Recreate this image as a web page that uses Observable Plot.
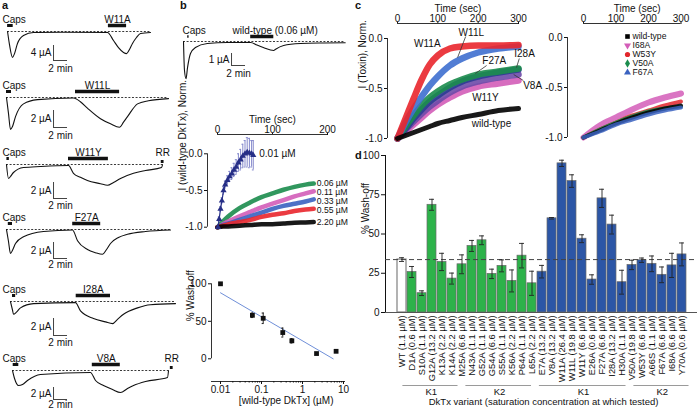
<!DOCTYPE html>
<html>
<head>
<meta charset="utf-8">
<script src="https://cdn.jsdelivr.net/npm/d3@7"></script>
<script src="https://cdn.jsdelivr.net/npm/@observablehq/plot@0.6"></script>
<style>
html,body{margin:0;padding:0;background:#fff;}
#fig{position:relative;width:698px;height:409px;overflow:hidden;background:#fff;font-family:"Liberation Sans",Arial,Helvetica,sans-serif;color:#111;}
#fig svg{position:absolute;overflow:visible;}
.plab{position:absolute;font-weight:bold;font-size:11px;line-height:11px;}
#pd g[aria-label^="x-axis"] text{font-size:9.3px;}
</style>
</head>
<body>
<div id="fig"></div>
<script>
// ================= DATA =================
// ---- panel a: current traces (time in min, current in µA) ----
const aToxins = ["W11A","W11L","W11Y","F27A","I28A","V8A"];
const aCapsOn  = [0.3, 0.14, 0.2, 0.4, 1.0, 1.1];
const aCapsOff = [1.1, 0.86, 0.55, 1.0, 1.45, 1.9];
const aToxOn   = [14.7, 10.0, 9.0, 9.6, 10.1, 12.4];
const aToxOff  = [17.3, 16.3, 14.7, 13.6, 15.0, 16.4];
const aScaleUA = [4, 2, 2, 2, 2, 2];
const aScaleMin = [2, 2, 2, 2, 2, 2];
const aRR = [null, null, 22.45, null, null, 23.75];
const aTime = [
 [0.29,0.57,1.0,1.29,1.71,2.57,4.0,8.0,14.57,15.43,16.14,16.86,17.29,17.71,18.14,18.71,19.29,20.71],
 [0.14,0.43,0.71,1.0,1.43,2.57,4.57,9.71,10.7,11.7,13.57,15.0,16.29,16.86,17.43,18.86,20.43,23.29],
 [0.14,0.43,0.71,1.14,2.57,5.0,9.0,9.71,10.7,11.7,13.57,14.57,15.43,16.43,18.29,20.0,22.29,22.43],
 [0.14,0.43,0.71,1.0,1.43,2.57,5.43,9.57,10.29,11.71,12.86,13.86,14.43,15.0,16.14,17.43,20.0,23.57],
 [0.71,1.0,1.14,1.57,2.14,4.0,10.0,10.71,12.57,14.29,15.29,16.0,16.86,18.86,20.71,24.29],
 [1.0,1.29,1.86,2.43,3.14,5.0,12.14,12.86,14.0,15.29,16.43,17.43,18.29,20.0,23.14,23.29]
];
const aCurrent = [
 [0,-3.5,-6.9,-5.9,-3.2,-1.07,-0.27,-0.22,-0.27,-2.4,-4.3,-5.6,-5.9,-4.8,-3.2,-1.6,-0.53,-0.27],
 [0,-1.9,-3.75,-3.4,-2.25,-0.75,-0.25,-0.06,-0.5,-1.25,-2.5,-3.1,-3.5,-2.9,-2.25,-0.75,-0.38,-0.13],
 [0,-1.75,-1.5,-1.0,-0.38,-0.25,-0.13,-1.1,-1.6,-2.0,-2.4,-2.6,-2.25,-1.75,-1.1,-0.75,-0.38,0],
 [0,-1.5,-3.0,-2.6,-1.75,-0.9,-0.25,-0.06,-1.4,-2.5,-2.9,-3.1,-2.5,-1.75,-1.0,-0.6,-0.25,-0.06],
 [0,-1.0,-1.5,-1.25,-0.75,-0.25,-0.13,-1.1,-2.0,-2.4,-2.6,-2.1,-1.5,-0.75,-0.38,-0.25],
 [0,-1.33,-2.5,-2.33,-1.67,-0.67,-0.33,-1.67,-2.5,-3.17,-3.67,-3.0,-2.5,-1.83,-1.17,0]
];

// ---- panel b top: wild-type trace ----
const bTraceTime    = [0,0.14,0.36,0.57,1.0,1.7,3.4,6.3,9.6,10.5,11.4,12.9,13.1,14.3,16.7,20,23.1];
const bTraceCurrent = [0,-2.4,-3.1,-2.2,-1.0,-0.5,-0.17,-0.08,-0.08,-0.3,-0.5,-0.75,-0.67,-0.33,-0.17,-0.12,-0.1];
const bTraceCaps = [0.6, 0.8];
const bTraceTox = [9.6, 12.9];

// ---- panel b middle: normalized wash-off at several wild-type concentrations ----
const bTime = [0,10,20,40,60,80,100,120,140,160,175];
const bLabels = ["0.06 µM","0.11 µM","0.33 µM","0.55 µM","2.20 µM"];
const bC006 = [-1,-0.92,-0.85,-0.74,-0.66,-0.59,-0.54,-0.49,-0.45,-0.42,-0.405];
const bC011 = [-1,-0.96,-0.92,-0.85,-0.79,-0.73,-0.68,-0.63,-0.58,-0.54,-0.51];
const bC033 = [-1,-0.97,-0.95,-0.90,-0.85,-0.80,-0.75,-0.71,-0.68,-0.65,-0.62];
const bC055 = [-1,-0.98,-0.96,-0.93,-0.90,-0.86,-0.83,-0.81,-0.78,-0.76,-0.75];
const bC220 = [-1,-0.99,-0.99,-0.98,-0.97,-0.96,-0.96,-0.95,-0.94,-0.935,-0.93];
const bLowLabel = "0.01 µM";
const bLowTime  = [1,3,5.5,8,11,14,18,22,26,30,34,38,42,46,50,54,58,62,65];
const bLowValue = [-1,-0.89,-0.75,-0.64,-0.5,-0.42,-0.36,-0.31,-0.27,-0.22,-0.18,-0.12,-0.08,-0.03,0,0.02,0.01,0,-0.02];
const bLowErr   = [0.02,0.03,0.03,0.04,0.05,0.05,0.06,0.07,0.08,0.09,0.1,0.12,0.14,0.16,0.18,0.2,0.2,0.18,0.2];

// ---- panel b bottom: % wash-off vs wild-type concentration ----
const wtConc = [0.01, 0.06, 0.11, 0.33, 0.55, 2.2, 6.6];
const wtWash = [100, 58, 54, 35, 24, 7, 10];
const wtWashErr = [0, 3, 7, 6, 3, 1, 1.5];
const fitConc = [0.01, 5.6];
const fitWash = [88, 0];

// ---- panel c left ----
const cTime = [0,20,40,60,80,100,130,160,200,250,300];
const cNames = ["W11Y","V8A","I28A","F27A","W11L","W11A","wild-type"];
const cValues = {
  "W11A": [-1,-0.8,-0.6,-0.41,-0.26,-0.17,-0.1,-0.08,-0.07,-0.07,-0.065],
  "W11L": [-1,-0.84,-0.7,-0.58,-0.47,-0.38,-0.27,-0.2,-0.14,-0.1,-0.08],
  "F27A": [-1,-0.88,-0.77,-0.67,-0.59,-0.53,-0.46,-0.41,-0.36,-0.33,-0.3],
  "I28A": [-1,-0.9,-0.8,-0.71,-0.63,-0.57,-0.49,-0.43,-0.38,-0.34,-0.31],
  "V8A":  [-1,-0.91,-0.83,-0.75,-0.68,-0.62,-0.54,-0.48,-0.43,-0.39,-0.36],
  "W11Y": [-1,-0.93,-0.86,-0.79,-0.72,-0.66,-0.59,-0.53,-0.48,-0.45,-0.42],
  "wild-type": [-1,-0.97,-0.94,-0.91,-0.88,-0.85,-0.82,-0.79,-0.76,-0.72,-0.7]
};
// ---- panel c right ----
const cRTime = [0,50,100,150,200,250,300];
const cRNames = ["wild-type","I68A","W53Y","V50A","F67A"];
const cRValues = {
  "wild-type": [-1,-0.93,-0.86,-0.8,-0.75,-0.71,-0.68],
  "I68A": [-1,-0.88,-0.8,-0.72,-0.65,-0.6,-0.56],
  "W53Y": [-1,-0.92,-0.85,-0.78,-0.73,-0.68,-0.64],
  "V50A": [-1,-0.92,-0.85,-0.79,-0.74,-0.71,-0.69],
  "F67A": [-1,-0.94,-0.87,-0.82,-0.77,-0.73,-0.7]
};

// ---- panel d ----
const variants = ["WT","D1A","S10A","G12A","K13A","K14A","M25A","N43A","G52A","G54A","S55A","K56A","P64A","L65A","E7A","V8A","W11A","W11L","W11Y","E26A","F27A","I28A","H30A","V50A","W53Y","A66S","F67A","I68A","Y70A"];
const satConc = ["1.1","0.6","1.1","13.2","2.2","2.2","6.6","1.1","1.1","6.6","1.1","2.2","1.1","2.2","13.2","13.2","26.4","19.8","6.6","0.6","6.6","13.2","1.1","19.8","6.6","1.1","6.6","6.6","0.6"];
const washoff = [33.7,25.8,12.3,68.6,32.2,21.6,30.7,42.4,46,24.6,29.7,20.1,36.2,18.6,26,60,95,83.7,47,21,72.7,56,19.3,30.3,33.3,31,24,30,37];
const washoffSem = [1.2,3.5,1.5,3.5,5.5,3.5,6,3.5,2.8,3,3.8,7,7.8,7.7,4,0.5,2,4,2.5,3,5.8,6,7.6,3,1.4,5,5,7.7,7.3];
const groupNames = ["K1","K2","K1","K2"];
const groupFirst = ["D1A","N43A","E7A","V50A"];
const groupLast  = ["M25A","L65A","H30A","Y70A"];
const dXTitle = "DkTx variant (saturation concentration at which tested)";

// ================= RENDER =================
const fig = document.getElementById("fig");
const FONT = "'Liberation Sans', Arial, Helvetica, sans-serif";
const baseStyle = {background: "none", overflow: "visible", fontFamily: FONT, fontSize: "10px", color: "#111"};
function put(svg, left, top, id) {
  svg.style.position = "absolute";
  svg.style.left = left + "px";
  svg.style.top = top + "px";
  if (id) svg.id = id;
  fig.appendChild(svg);
}
function panelLabel(t, x, y) {
  const d = document.createElement("div");
  d.className = "plab"; d.textContent = t;
  d.style.left = x + "px"; d.style.top = y + "px";
  fig.appendChild(d);
}
const fmt1 = d => d.toFixed(1);
const TOP_AXIS = {axis: "top", tickSize: 2, tickPadding: 0, label: null};
const TITLE_DY = -19;

// ---------- panel a ----------
const aBasePx = [31, 97, 164, 229, 301, 370];
const aPxPerUA = [3.75, 8.5, 8, 8, 8.5, 6];
const aScaleTopPx = [14, 13, 18, 13, 17, 17];
const aMinLabelDy = [8, 8, 7, 6, 7, 5];
const A_ABOVE = 28, A_H = 76, SCALE_T = 6.86;
aToxins.forEach((tox, i) => {
  const k = aPxPerUA[i];
  const pts = aTime[i].map((t, j) => ({t, I: aCurrent[i][j]}));
  const t0 = aTime[i][0], t1 = aTime[i][aTime[i].length - 1];
  const labY = 12 / k, barY = 6 / k;
  const sTop = -aScaleTopPx[i] / k, sBot = sTop - aScaleUA[i];
  const marks = [
    Plot.ruleY([0], {x1: () => t0, x2: () => t1, stroke: "#222", strokeWidth: 0.9, strokeDasharray: "2,1.6"}),
    Plot.line(pts, {x: "t", y: "I", curve: "monotone-x", stroke: "#111", strokeWidth: 1.1}),
    Plot.text(["Caps"], {x: () => 0, y: () => labY, textAnchor: "start", dx: -3}),
    Plot.ruleY([barY], {x1: () => aCapsOn[i], x2: () => aCapsOff[i], strokeWidth: 3}),
    Plot.text([tox], {x: () => (aToxOn[i] + aToxOff[i]) / 2, y: () => labY}),
    Plot.ruleY([barY], {x1: () => aToxOn[i], x2: () => aToxOff[i], strokeWidth: 3.5}),
    Plot.ruleX([SCALE_T], {y1: () => sTop, y2: () => sBot, stroke: "#444"}),
    Plot.ruleY([sBot], {x1: () => SCALE_T, x2: () => SCALE_T + aScaleMin[i], stroke: "#444"}),
    Plot.text([`${aScaleUA[i]} µA`], {x: () => SCALE_T, y: () => (sTop + sBot) / 2, textAnchor: "end", dx: -2}),
    Plot.text([`${aScaleMin[i]} min`], {x: () => SCALE_T + aScaleMin[i] / 2, y: () => sBot, dy: aMinLabelDy[i]})
  ];
  if (aRR[i] != null) {
    marks.push(Plot.text(["RR"], {x: () => aRR[i], y: () => labY}));
    marks.push(Plot.ruleY([3 / k], {x1: () => aRR[i] - 0.2, x2: () => aRR[i] + 0.2, strokeWidth: 3}));
  }
  const svg = Plot.plot({
    width: 182, height: A_H, margin: 0, style: baseStyle,
    x: {domain: [0, 25], range: [5, 180], axis: null},
    y: {domain: [-(A_H - A_ABOVE) / k, A_ABOVE / k], range: [A_H, 0], axis: null},
    marks
  });
  put(svg, 0, aBasePx[i] - A_ABOVE);
});
panelLabel("a", 2, 0);

// ---------- panel b top ----------
{
  const k = 12, above = 31, H = 80;
  const pts = bTraceTime.map((t, j) => ({t, I: bTraceCurrent[j]}));
  const tEnd = bTraceTime[bTraceTime.length - 1];
  const svg = Plot.plot({
    width: 200, height: H, margin: 0, style: baseStyle,
    x: {domain: [0, 24], range: [33, 201], axis: null},
    y: {domain: [-(H - above) / k, above / k], range: [H, 0], axis: null},
    marks: [
      Plot.ruleY([0], {x1: () => 0, x2: () => tEnd, stroke: "#222", strokeWidth: 0.9, strokeDasharray: "2,1.6"}),
      Plot.line(pts, {x: "t", y: "I", curve: "monotone-x", stroke: "#111", strokeWidth: 1.1}),
      Plot.text(["Caps"], {x: () => 0, y: () => 11 / k, textAnchor: "start", dx: -1}),
      Plot.ruleY([5 / k], {x1: () => bTraceCaps[0], x2: () => bTraceCaps[1], strokeWidth: 2.5}),
      Plot.text(["wild-type (0.06 µM)"], {x: () => 7, y: () => 11 / k, textAnchor: "start"}),
      Plot.ruleY([5 / k], {x1: () => bTraceTox[0], x2: () => bTraceTox[1], strokeWidth: 3.5}),
      Plot.ruleX([SCALE_T], {y1: () => -1, y2: () => -2, stroke: "#444"}),
      Plot.ruleY([-2], {x1: () => SCALE_T, x2: () => SCALE_T + 2, stroke: "#444"}),
      Plot.text(["1 µA"], {x: () => SCALE_T, y: () => -1.5, textAnchor: "end", dx: -2}),
      Plot.text(["2 min"], {x: () => SCALE_T + 1, y: () => -2, dy: 8})
    ]
  });
  put(svg, 150, 10);
}
panelLabel("b", 180, 0);

// ---------- panel b middle ----------
{
  const W = 215, H = 135, mT = 29, mL = 57;
  const xR = [67, 177], yR = [121.7, 48.3];
  const pxPerUnit = yR[0] - yR[1];
  const series = [[bC006, "#1b8c4d"], [bC011, "#d35db8"], [bC033, "#3a62c0"], [bC055, "#e9262c"], [bC220, "#000000"]];
  const marks = [
    Plot.ruleY([0], {x1: () => 0, x2: () => 200, dy: mT - yR[1], stroke: "#333"}),
    Plot.ruleX([0], {y1: () => -1, y2: () => 0, dx: mL - xR[0], stroke: "#333"}),
    Plot.text(["Time (sec)"], {x: () => 100, frameAnchor: "top", dy: TITLE_DY}),
    Plot.text(["I (wild-type DkTx), Norm."], {y: () => -0.5, frameAnchor: "left", dx: -25, rotate: -90})
  ];
  series.forEach(([vals, col]) => {
    const pts = bTime.map((t, j) => ({t, v: vals[j]}));
    marks.push(Plot.line(pts, {x: "t", y: "v", curve: "monotone-x", stroke: col, strokeWidth: 4.5, strokeOpacity: 0.9}));
  });
  // end labels, nudged apart so they do not collide (min 9 px)
  let prevPx = -Infinity;
  series.forEach(([vals], s) => {
    const endV = vals[vals.length - 1];
    const px = Math.max(yR[1] - endV * pxPerUnit, prevPx + 9);
    prevPx = px;
    const labV = -(px - yR[1]) / pxPerUnit;
    const last = {t: bTime[bTime.length - 1], v: labV, label: bLabels[s]};
    marks.push(Plot.text([last], {x: "t", y: "v", text: "label", textAnchor: "start", dx: 3, fontSize: 8.6}));
  });
  const low = bLowTime.map((t, j) => ({t, v: bLowValue[j], e: bLowErr[j]}));
  marks.push(Plot.ruleX(low, {x: "t", y1: d => d.v - d.e, y2: d => d.v + d.e, stroke: "#8589cc", strokeWidth: 1}));
  marks.push(Plot.ruleY(low, {y: d => d.v + d.e, x1: d => d.t - 1.6, x2: d => d.t + 1.6, stroke: "#8589cc"}));
  marks.push(Plot.ruleY(low, {y: d => d.v - d.e, x1: d => d.t - 1.6, x2: d => d.t + 1.6, stroke: "#8589cc"}));
  marks.push(Plot.line(low, {x: "t", y: "v", stroke: "#262e86", strokeWidth: 1.2}));
  marks.push(Plot.dot(low, {x: "t", y: "v", symbol: "triangle", r: 2.3, fill: "#262e86"}));
  const lastLow = low[low.length - 1];
  marks.push(Plot.text([bLowLabel], {x: () => lastLow.t, y: () => 0, textAnchor: "start", dx: 6}));
  const svg = Plot.plot({
    width: W, height: H, marginTop: mT, marginLeft: mL, marginRight: 10, marginBottom: 0, style: baseStyle,
    x: {domain: [0, 200], range: xR, ticks: [0, 100, 200], ...TOP_AXIS},
    y: {domain: [-1, 0], range: yR, ticks: [0, -0.5, -1], tickFormat: fmt1, tickSize: 3, tickPadding: 2, label: null},
    marks
  });
  put(svg, 150, 105);
}

// ---------- panel b bottom ----------
{
  const W = 215, H = 139, mL = 61, mB = 28, mT = 13;
  const xR = [70, 193], yR = [88.3, 13.3];
  const hasAxisMarks = typeof Plot.axisX === "function";
  const pts = wtConc.map((c, j) => ({c, w: wtWash[j], e: wtWashErr[j]}));
  const fit = fitConc.map((c, j) => ({c, w: fitWash[j]}));
  const majors = [0.01, 0.1, 1, 10];
  const minors = [];
  for (let p = -2; p < 1; p++) for (let m = 2; m <= 9; m++) minors.push(m * Math.pow(10, p));
  const withErr = pts.filter(d => d.e > 0);
  const marks = [
    Plot.ruleY([0], {dy: (H - mB) - yR[0], stroke: "#333"}),
    Plot.ruleX([0.01], {y1: () => 0, y2: () => 100, dx: mL - xR[0], stroke: "#333"}),
    Plot.line(fit, {x: "c", y: "w", stroke: "#6f8fd8", strokeWidth: 1}),
    Plot.ruleX(withErr, {x: "c", y1: d => d.w - d.e, y2: d => d.w + d.e, stroke: "#222"}),
    Plot.ruleY(withErr, {y: d => d.w + d.e, x1: d => d.c / 1.06, x2: d => d.c * 1.06, stroke: "#222"}),
    Plot.ruleY(withErr, {y: d => d.w - d.e, x1: d => d.c / 1.06, x2: d => d.c * 1.06, stroke: "#222"}),
    Plot.dot(pts, {x: "c", y: "w", symbol: "square", r: 2.7, fill: "#111"}),
    Plot.text(["% Wash-off"], {y: () => 50, frameAnchor: "left", dx: -21, rotate: -90}),
    Plot.text(["[wild-type DkTx] (µM)"], {x: () => 0.4, frameAnchor: "bottom", dy: 22})
  ];
  const xOpts = {type: "log", domain: [0.01, 10], range: xR, label: null};
  if (hasAxisMarks) {
    marks.push(Plot.axisX(majors, {anchor: "bottom", tickSize: 3, tickPadding: 1, tickFormat: d => String(d), label: null}));
    marks.push(Plot.axisX(minors, {anchor: "bottom", tickSize: 1.5, tickFormat: () => "", label: null}));
  } else {
    Object.assign(xOpts, {ticks: majors, tickSize: 3, tickPadding: 1, tickFormat: d => String(d)});
  }
  const svg = Plot.plot({
    width: W, height: H, marginTop: mT, marginLeft: mL, marginRight: 20, marginBottom: mB, style: baseStyle,
    x: xOpts,
    y: {domain: [0, 100], range: yR, ticks: [0, 50, 100], tickSize: 3, tickPadding: 2, label: null},
    marks
  });
  put(svg, 150, 270);
}

// ---------- panel c left ----------
const cColors = {"W11A": "#e9262c", "W11L": "#3e6fcf", "F27A": "#1b8c4d", "I28A": "#2b3d91", "V8A": "#6d4aa8", "W11Y": "#d35db8", "wild-type": "#000000"};
{
  const W = 205, H = 150, mT = 23, mL = 47;
  const xR = [57, 178], yR = [138, 38];
  const marks = [
    Plot.ruleY([0], {x1: () => 0, x2: () => 300, dy: mT - yR[1], stroke: "#333"}),
    Plot.ruleX([0], {y1: () => -1, y2: () => 0, dx: mL - xR[0], stroke: "#333"}),
    Plot.text(["Time (sec)"], {x: () => 150, frameAnchor: "top", dy: TITLE_DY}),
    Plot.text(["I (Toxin), Norm."], {y: () => -0.5, frameAnchor: "left", dx: -25, rotate: -90})
  ];
  cNames.forEach(n => {
    const pts = cTime.map((t, j) => ({t, v: cValues[n][j]}));
    marks.push(Plot.line(pts, {x: "t", y: "v", curve: "monotone-x", stroke: cColors[n], strokeWidth: n === "wild-type" ? 5 : 6.5, strokeOpacity: 0.9}));
  });
  // annotations: label text and leader lines
  const ann = [
    {text: "W11A", t: 74, v: -0.05},
    {text: "W11L", t: 183, v: 0.06, l: [169, 0.02, 149, -0.19]},
    {text: "F27A", t: 240, v: -0.22, l: [221, -0.27, 193, -0.35]},
    {text: "I28A", t: 315, v: -0.15, l: [302, -0.2, 295, -0.29]},
    {text: "V8A", t: 335, v: -0.47, l: [312, -0.42, 288, -0.36]},
    {text: "W11Y", t: 218, v: -0.59},
    {text: "wild-type", t: 233, v: -0.85}
  ];
  marks.push(Plot.link(ann.filter(a => a.l), {x1: a => a.l[0], y1: a => a.l[1], x2: a => a.l[2], y2: a => a.l[3], stroke: "#333", strokeWidth: 0.8}));
  marks.push(Plot.text(ann, {x: "t", y: "v", text: "text"}));
  const svg = Plot.plot({
    width: W, height: H, marginTop: mT, marginLeft: mL, marginRight: 10, marginBottom: 0, style: baseStyle,
    x: {domain: [0, 300], range: xR, ticks: [0, 100, 200, 300], ...TOP_AXIS},
    y: {domain: [-1, 0], range: yR, ticks: [0, -0.5, -1], tickFormat: fmt1, tickSize: 3, tickPadding: 2, label: null},
    marks
  });
  put(svg, 340, 0);
}
panelLabel("c", 355, 0);

// ---------- panel c right ----------
const cRColors = {"wild-type": "#000000", "I68A": "#d35db8", "W53Y": "#e2262b", "V50A": "#1b8c4d", "F67A": "#3a62c0"};
const cRSymbols = {"wild-type": "square", "I68A": "triangle", "W53Y": "circle", "V50A": "diamond", "F67A": "triangle"};
{
  const W = 153, H = 150, mT = 23, mL = 22;
  const xR = [38, 135.5], yR = [137, 37];
  const marks = [
    Plot.ruleY([0], {x1: () => 0, x2: () => 300, dy: mT - yR[1], stroke: "#333"}),
    Plot.ruleX([0], {y1: () => -1, y2: () => 0, dx: mL - xR[0], stroke: "#333"}),
    Plot.text(["Time (sec)"], {x: () => 165, frameAnchor: "top", dy: TITLE_DY})
  ];
  ["I68A", "W53Y", "V50A", "wild-type", "F67A"].forEach(n => {
    const pts = cRTime.map((t, j) => ({t, v: cRValues[n][j]}));
    marks.push(Plot.line(pts, {x: "t", y: "v", curve: "monotone-x", stroke: cRColors[n], strokeWidth: n === "I68A" ? 6 : 4, strokeOpacity: 0.85}));
  });
  const svg = Plot.plot({
    width: W, height: H, marginTop: mT, marginLeft: mL, marginRight: 10, marginBottom: 0, style: baseStyle,
    x: {domain: [0, 300], range: xR, ticks: [0, 100, 200, 300], ...TOP_AXIS},
    y: {domain: [-1, 0], range: yR, ticks: [0, -0.5, -1], tickFormat: fmt1, tickSize: 3, tickPadding: 2, label: null},
    marks
  });
  put(svg, 545, 0);
  // legend
  const lmarks = [];
  cRNames.forEach(n => {
    lmarks.push(Plot.dot([n], {x: () => 0, y: d => d, symbol: cRSymbols[n], r: 2.6, fill: cRColors[n], stroke: "none", rotate: n === "I68A" ? 180 : 0}));
  });
  lmarks.push(Plot.text(cRNames, {x: () => 0, y: d => d, textAnchor: "start", dx: 5, fontSize: 8.6}));
  const leg = Plot.plot({
    width: 78, height: 56, margin: 0, style: baseStyle,
    x: {domain: [0, 1], range: [7, 70], axis: null},
    y: {type: "point", domain: cRNames, range: [4, 49], axis: null},
    marks: lmarks
  });
  put(leg, 620, 27);
}

// ---------- panel d ----------
{
  const W = 358, H = 264, mL = 45, mT = 10, mB = 97;
  const xR = [48.75, 353.25];
  const groupFill = ["#2db24a", "#2db24a", "#2c56a6", "#2c56a6"];
  const groups = groupNames.map((name, g) => ({name, i1: variants.indexOf(groupFirst[g]), i2: variants.indexOf(groupLast[g]), fill: groupFill[g]}));
  const data = variants.map((v, i) => {
    const g = groups.find(G => i >= G.i1 && i <= G.i2);
    return {v, w: washoff[i], e: washoffSem[i], fill: g ? g.fill : "#ffffff"};
  });
  const fills = Array.from(new Set(data.map(d => d.fill)));
  const marks = [];
  fills.forEach(f => {
    marks.push(Plot.barY(data.filter(d => d.fill === f), {x: "v", y: "w", fill: f, stroke: f === "#ffffff" ? "#8a8a8a" : "#6a6a6a", strokeWidth: f === "#ffffff" ? 1.3 : 0.7}));
  });
  marks.push(Plot.ruleY([washoff[0]], {stroke: "#444", strokeDasharray: "5,3", strokeWidth: 1}));
  marks.push(Plot.ruleY([0], {stroke: "#555"}));
  marks.push(Plot.ruleX(data, {x: "v", y1: d => d.w - d.e, y2: d => d.w + d.e, stroke: "#222", strokeWidth: 0.9}));
  marks.push(Plot.tickY(data, {x: "v", y: d => d.w + d.e, inset: 2, stroke: "#222", strokeWidth: 0.9}));
  marks.push(Plot.tickY(data, {x: "v", y: d => d.w - d.e, inset: 2, stroke: "#222", strokeWidth: 0.9}));
  marks.push(Plot.text(["% Wash-off"], {y: () => 50, frameAnchor: "left", dx: -20, rotate: -90}));
  const svg = Plot.plot({
    width: W, height: H, marginTop: mT, marginLeft: mL, marginRight: 1, marginBottom: mB, style: baseStyle,
    x: {type: "band", domain: variants, range: xR, padding: 0.15, tickRotate: -90, tickSize: 0, tickPadding: 3,
        tickFormat: d => `${d} (${satConc[variants.indexOf(d)]} µM)`, label: null},
    y: {domain: [0, 100], ticks: [0, 25, 50, 75, 100], tickSize: 4, tickPadding: 2, line: true, label: null},
    marks
  });
  put(svg, 340, 145, "pd");

  // group brackets and x title
  const br = Plot.plot({
    width: W, height: 31, margin: 0, style: baseStyle,
    x: {domain: [-0.5, variants.length - 0.5], range: xR, axis: null},
    y: {domain: [0, 1], range: [7, 13], axis: null},
    marks: [
      Plot.ruleY(groups, {y: () => 0, x1: d => d.i1 - 0.2, x2: d => d.i2 + 0.05, stroke: "#9a9a9a", strokeWidth: 1}),
      Plot.text(groups, {x: d => (d.i1 + d.i2) / 2, y: () => 1, text: "name", fontSize: 9.5}),
      Plot.text([dXTitle], {x: () => 14.2, frameAnchor: "bottom", dy: -4.5, fontSize: 9.5})
    ]
  });
  put(br, 340, 378);
}
panelLabel("d", 355, 150);
</script>
</body>
</html>
